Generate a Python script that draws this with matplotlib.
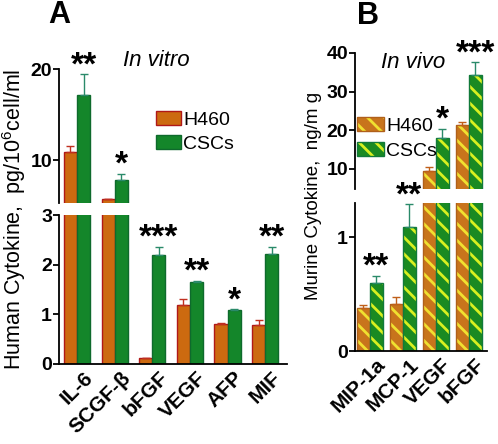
import matplotlib
matplotlib.use('Agg')
import matplotlib.pyplot as plt
import matplotlib.transforms as mtransforms
import numpy as np
from matplotlib.legend_handler import HandlerTuple

plt.rcParams['font.family'] = ['Liberation Sans', 'DejaVu Sans']
plt.rcParams['mathtext.fontset'] = 'custom'
plt.rcParams['mathtext.rm'] = 'Liberation Sans'
plt.rcParams['hatch.linewidth'] = 2.0

# panel A, in vitro (pg/10^6 cell/ml)
a_labels = ['IL-6', 'SCGF-β', 'bFGF', 'VEGF', 'AFP', 'MIF']
a_h460 = [10.9, 5.7, 0.12, 1.18, 0.80, 0.78]
a_h460_err = [0.6, 0.0, 0.0, 0.12, 0.02, 0.10]
a_cscs = [17.2, 7.8, 2.2, 1.66, 1.08, 2.22]
a_cscs_err = [2.2, 0.7, 0.16, 0.02, 0.02, 0.14]
a_stars = ['**', '*', '***', '**', '*', '**']

# panel B, in vivo (ng/mg)
b_labels = ['MIP-1a', 'MCP-1', 'VEGF', 'bFGF']
b_h460 = [0.38, 0.41, 9.5, 21.3]
b_h460_err = [0.02, 0.06, 0.8, 0.7]
b_cscs = [0.60, 1.09, 17.9, 34.2]
b_cscs_err = [0.06, 0.20, 2.4, 3.4]
b_stars = ['**', '**', '*', '***']

W, H = 498, 444
fig = plt.figure(figsize=(W / 100, H / 100), dpi=100)


def box(x0, y_top, x1, y_bot):
    # pixel box -> figure fraction
    return [x0 / W, 1 - y_bot / H, (x1 - x0) / W, (y_bot - y_top) / H]


def style_axis(ax, lower):
    ax.spines['top'].set_visible(False)
    ax.spines['right'].set_visible(False)
    for s in ax.spines.values():
        s.set_linewidth(1.3)
    ax.tick_params(axis='y', length=4, width=1.3, labelsize=14, pad=1)
    for t in ax.get_yticklabels():
        t.set_fontweight('bold')
    if not lower:
        ax.spines['bottom'].set_visible(False)
        ax.set_xticks([])


def draw_bars(ax, x, w, vals, errs, face, edge, ecol, hatch=None, hcol=None):
    if hatch:
        b1 = ax.bar(x, vals, w, color=face, edgecolor=hcol, hatch=hatch, linewidth=0)
        b2 = ax.bar(x, vals, w, fill=False, edgecolor=edge, linewidth=1.0)
        hand = (b1, b2)
    else:
        hand = ax.bar(x, vals, w, color=face, edgecolor=edge, linewidth=1.0)
    ax.errorbar(x, vals, yerr=[np.zeros(len(vals)), errs], fmt='none',
                ecolor=ecol, elinewidth=1.0, capsize=3, capthick=1.0)
    return hand


def panel(ax_lo, ax_hi, labels, h460, h460_err, cscs, cscs_err, stars, w, hatched):
    x = np.arange(len(labels))
    hands = []
    for ax in (ax_lo, ax_hi):
        if hatched:
            h1 = draw_bars(ax, x - w / 2, w, h460, h460_err, '#c8741c', '#b0601a', '#c0601a',
                           hatch='\\\\', hcol='#f0e030')
            h2 = draw_bars(ax, x + w / 2, w, cscs, cscs_err, '#1a8a22', '#117a3a', '#2a8a6a',
                           hatch='\\\\', hcol='#d8f020')
        else:
            h1 = draw_bars(ax, x - w / 2, w, h460, h460_err, '#cc6a10', '#b01818', '#c03020')
            h2 = draw_bars(ax, x + w / 2, w, cscs, cscs_err, '#14862a', '#0e6a2c', '#2a8a6a')
        hands = [h1, h2]
    lo_max = ax_lo.get_ylim()[1]
    for i, s in enumerate(stars):
        top = cscs[i] + cscs_err[i]
        ax = ax_lo if top < lo_max else ax_hi
        ax.annotate(s, xy=(x[i] + w / 2, top), xytext=(0, -5), textcoords='offset points',
                    ha='center', va='bottom', fontsize=24, fontweight='bold',
                    annotation_clip=False)
    ax_lo.set_xticks(x)
    ax_lo.set_xticklabels(labels, rotation=45, ha='right', va='top',
                          rotation_mode='anchor', fontsize=15, fontweight='bold')
    ax_lo.tick_params(axis='x', length=0, pad=3)
    shift = mtransforms.ScaledTranslation(6 / 100, 0, fig.dpi_scale_trans)
    for t in ax_lo.get_xticklabels():
        t.set_transform(t.get_transform() + shift)
    return hands


# ---- panel A
axA_hi = fig.add_axes(box(59, 69, 287, 203))
axA_lo = fig.add_axes(box(59, 215, 287, 364))
axA_lo.set_ylim(0, 3)
axA_hi.set_ylim(5.3, 20)
axA_lo.set_yticks([0, 1, 2, 3])
axA_hi.set_yticks([10, 20])
for ax in (axA_lo, axA_hi):
    ax.set_xlim(-0.48, 5.58)
hA = panel(axA_lo, axA_hi, a_labels, a_h460, a_h460_err, a_cscs, a_cscs_err, a_stars, 0.35, False)
style_axis(axA_lo, True)
style_axis(axA_hi, False)
axA_hi.text(0.28, 1.06, 'In vitro', transform=axA_hi.transAxes, fontsize=16,
            style='italic', va='center')
axA_hi.legend(hA, ['H460', 'CSCs'], loc='upper left', frameon=False, fontsize=14,
              bbox_to_anchor=(156 / W, 1 - 111 / H), bbox_transform=fig.transFigure,
              handlelength=1.3, handleheight=0.7, handletextpad=0.1, labelspacing=0.35,
              borderpad=0, borderaxespad=0)
fig.text(59 / W, 1 - 15 / H, 'A', fontsize=22, fontweight='bold', ha='center', va='center')
fig.text(14 / W, 1 - 219 / H, 'Human Cytokine,  pg/10$^{6}$cell/ml', rotation=90,
         fontsize=15.5, ha='center', va='center')

# ---- panel B
axB_hi = fig.add_axes(box(355, 53, 487, 189))
axB_lo = fig.add_axes(box(355, 203, 487, 351))
axB_lo.set_ylim(0, 1.3)
axB_hi.set_ylim(4.7, 40)
axB_lo.set_yticks([0, 1])
axB_hi.set_yticks([10, 20, 30, 40])
for ax in (axB_lo, axB_hi):
    ax.set_xlim(-0.45, 3.55)
hB = panel(axB_lo, axB_hi, b_labels, b_h460, b_h460_err, b_cscs, b_cscs_err, b_stars, 0.39, True)
style_axis(axB_lo, True)
style_axis(axB_hi, False)
axB_hi.text(0.2, 0.93, 'In vivo', transform=axB_hi.transAxes, fontsize=16,
            style='italic', va='center')
axB_hi.legend(hB, ['H460', 'CSCs'], loc='upper left', frameon=False, fontsize=14,
              bbox_to_anchor=(357 / W, 1 - 117 / H), bbox_transform=fig.transFigure,
              handlelength=1.4, handleheight=0.75, handletextpad=0.1, labelspacing=0.35,
              borderpad=0, borderaxespad=0,
              handler_map={tuple: HandlerTuple(ndivide=1, pad=0)})
fig.text(368 / W, 1 - 16 / H, 'B', fontsize=22, fontweight='bold', ha='center', va='center')
fig.text(314 / W, 1 - 196 / H, 'Murine Cytokine,  ng/m g', rotation=90,
         fontsize=13.5, ha='center', va='center')

fig.savefig('out.png', dpi=100)
